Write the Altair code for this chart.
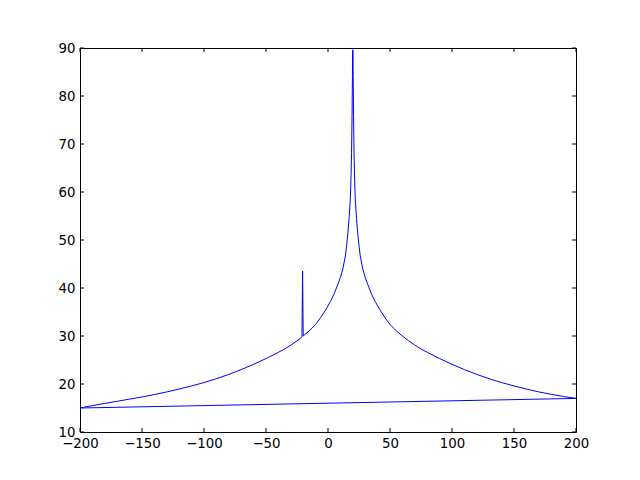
import altair as alt
import pandas as pd

# curve (polyline order as drawn)
xs = [-200, -190, -180, -170, -160, -150, -140, -130, -120, -110, -100, -90, -80, -70, -60, -50, -40, -35, -30, -25, -21,
      -20.5, -20, -15, -10, -6, -2, 2, 5, 8, 10, 12, 14, 15, 16, 17, 18, 18.5, 19, 19.4, 19.7, 19.85,
      20.15, 20.3, 20.6, 21, 21.5, 22, 23, 24, 25, 26, 28, 30, 32, 35, 38, 42, 46, 50, 55, 60, 65, 70, 75, 80, 90,
      100, 110, 120, 130, 140, 150, 160, 170, 180, 190, 200, -200]
ys = [15.0, 15.5, 15.95, 16.4, 16.85, 17.3, 17.8, 18.35, 18.95, 19.6, 20.3, 21.1, 22.0, 23.0, 24.1, 25.3, 26.6, 27.3, 28.1, 29.0, 29.8,
      43.5, 30.0, 31.1, 32.4, 33.8, 35.4, 37.2, 38.8, 40.8, 42.2, 44.0, 46.7, 48.8, 51.3, 54.5, 58.5, 62.5, 68.0, 76.0, 84.0, 89.6,
      89.6, 84.0, 76.0, 68.0, 62.5, 58.5, 54.5, 51.3, 48.8, 46.7, 44.0, 42.2, 40.8, 38.8, 37.2, 35.4, 33.8, 32.4, 31.1, 30.0, 29.0, 28.1, 27.3, 26.6, 25.3,
      24.1, 23.0, 22.0, 21.1, 20.3, 19.6, 18.95, 18.35, 17.85, 17.4, 17.0, 15.0]

x_ticks = [-200, -150, -100, -50, 0, 50, 100, 150, 200]
y_ticks = [10, 20, 30, 40, 50, 60, 70, 80, 90]

W, H = 496, 384
df = pd.DataFrame({"x": xs, "y": ys, "i": list(range(len(xs)))})
dx = pd.DataFrame({"t": x_ticks})
dy = pd.DataFrame({"t": y_ticks})

xscale = alt.Scale(domain=[-200, 200], nice=False, zero=False)
yscale = alt.Scale(domain=[10, 90], nice=False, zero=False)

axis_common = dict(grid=False, domain=False, ticks=False, labelFlush=False, labelOverlap=False,
                   labelFont="DejaVu Sans", labelFontSize=13.33, labelColor="black",
                   title=None, format="d")
xaxis = alt.Axis(values=x_ticks, labelPadding=4, **axis_common)
yaxis = alt.Axis(values=y_ticks, labelPadding=5, **axis_common)

line = alt.Chart(df).mark_line(color="#0000ff", strokeWidth=1).encode(
    x=alt.X("x:Q", scale=xscale, axis=xaxis),
    y=alt.Y("y:Q", scale=yscale, axis=yaxis),
    order="i:Q",
)

tx_b = alt.Chart(dx).mark_rule(color="black", strokeWidth=1).encode(
    x=alt.X("t:Q", scale=xscale, axis=xaxis), y=alt.value(H), y2=alt.value(H - 4))
tx_t = alt.Chart(dx).mark_rule(color="black", strokeWidth=1).encode(
    x=alt.X("t:Q", scale=xscale, axis=xaxis), y=alt.value(0), y2=alt.value(4))
ty_l = alt.Chart(dy).mark_rule(color="black", strokeWidth=1).encode(
    y=alt.Y("t:Q", scale=yscale, axis=yaxis), x=alt.value(0), x2=alt.value(4))
ty_r = alt.Chart(dy).mark_rule(color="black", strokeWidth=1).encode(
    y=alt.Y("t:Q", scale=yscale, axis=yaxis), x=alt.value(W), x2=alt.value(W - 4))

chart = alt.layer(line, tx_b, tx_t, ty_l, ty_r).properties(
    width=W, height=H,
    autosize=alt.AutoSizeParams(type="none"),
    padding={"left": 72, "top": 40, "right": 56, "bottom": 40},
).configure(background="white").configure_view(stroke="black", strokeWidth=1)

chart.save("out.html", embed_options={"renderer": "svg", "actions": False})
